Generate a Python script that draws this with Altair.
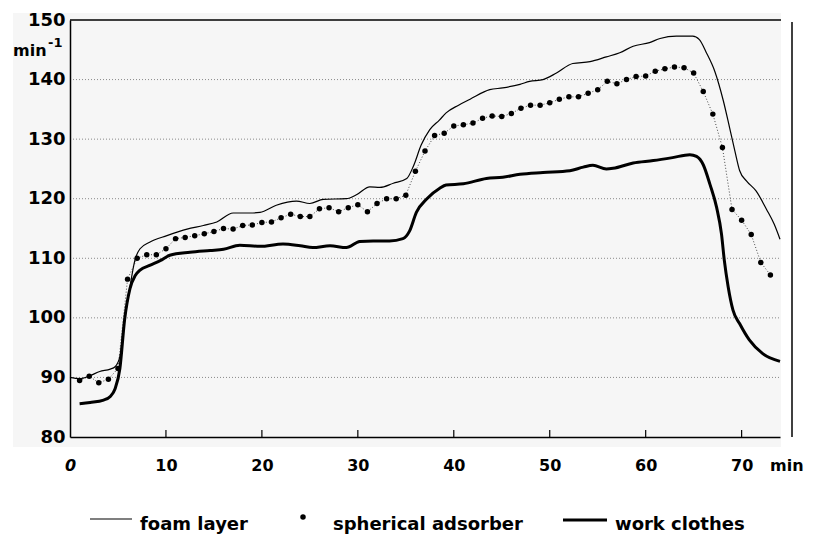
import altair as alt
import pandas as pd

# ---------------- data ----------------
foam_x = [0, 1.0, 2.1, 3.1, 4.2, 4.7, 5.2, 5.55, 6.1, 6.8, 7.3, 8.3, 10.1, 12.2, 13.9, 15.3,
          17.0, 18.75, 19.8, 21.5, 23.6, 25.0, 26.4, 28.8, 29.9, 31.25, 32.3, 33.7, 35.1,
          35.8, 36.6, 37.5, 38.5, 39.2, 40.5, 41.7, 43.75, 45.1, 46.9, 47.9, 49.3, 50.7,
          52.4, 54.2, 55.9, 57.3, 58.7, 60.4, 61.5, 63.2, 64.9, 65.6, 66.3, 67.2, 68.1,
          68.75, 69.3, 69.8, 70.5, 71.5, 72.6, 73.4, 74.0]
foam_y = [90.0, 89.8, 90.3, 91.0, 91.4, 91.8, 93.5, 98.2, 103.7, 109.9, 111.6, 112.7, 113.8,
          114.9, 115.5, 116.1, 117.6, 117.6, 117.7, 118.9, 119.6, 119.2, 119.9, 120.0, 120.7,
          122.0, 121.9, 122.6, 123.4, 125.5, 129.0, 131.6, 133.2, 134.4, 135.7, 136.7, 138.3,
          138.6, 139.2, 139.7, 140.0, 141.1, 142.7, 143.0, 143.8, 144.5, 145.6, 146.2, 146.9,
          147.3, 147.3, 146.7, 144.6, 141.4, 136.4, 131.9, 128.0, 124.7, 123.0, 121.3, 118.2,
          115.7, 113.2]

work_x = [1.0, 2.1, 3.5, 4.2, 4.7, 5.2, 5.7, 6.25, 6.8, 7.3, 8.3, 9.4, 10.4, 12.5, 14.6, 16.0,
          17.7, 19.8, 22.2, 24.0, 25.3, 27.1, 28.8, 30.2, 31.6, 33.3, 34.7, 35.4, 36.1, 37.2,
          38.5, 39.2, 41.0, 43.4, 45.1, 46.9, 49.3, 52.1, 53.5, 54.5, 55.9, 56.6, 58.7, 60.8,
          62.8, 64.6, 65.3, 66.0, 66.7, 67.4, 67.9, 68.2, 68.6, 69.1, 69.8, 70.8, 72.2, 74.0]
work_y = [85.6, 85.8, 86.2, 86.8, 88.1, 91.5, 99.8, 104.9, 107.1, 108.0, 108.8, 109.6, 110.5,
          111.0, 111.3, 111.5, 112.2, 112.0, 112.4, 112.1, 111.8, 112.1, 111.8, 112.8, 112.9,
          112.9, 113.3, 114.6, 117.7, 120.0, 121.7, 122.3, 122.5, 123.4, 123.6, 124.1, 124.4,
          124.7, 125.3, 125.6, 125.0, 125.1, 126.0, 126.4, 126.9, 127.4, 127.1, 125.7, 122.4,
          118.5, 114.1, 109.6, 105.2, 101.3, 99.0, 96.3, 94.0, 92.7]

sph_x = [1, 2, 3, 4, 5, 6, 7, 8, 9, 10, 11, 12, 13, 14, 15, 16, 17, 18, 19, 20, 21, 22, 23, 24,
         25, 26, 27, 28, 29, 30, 31, 32, 33, 34, 35, 36, 37, 38, 39, 40, 41, 42, 43, 44, 45, 46,
         47, 48, 49, 50, 51, 52, 53, 54, 55, 56, 57, 58, 59, 60, 61, 62, 63, 64, 65, 66, 67, 68,
         69, 70, 71, 72, 73]
sph_y = [89.5, 90.2, 89.1, 89.7, 91.5, 106.5, 110.0, 110.6, 110.6, 111.6, 113.3, 113.5, 113.8,
         114.1, 114.5, 115.0, 114.9, 115.5, 115.6, 116.0, 116.1, 116.8, 117.4, 117.0, 117.0,
         118.3, 118.5, 117.8, 118.5, 119.0, 117.8, 119.2, 120.0, 120.0, 120.6, 124.6, 128.0,
         130.6, 131.0, 132.2, 132.4, 132.7, 133.5, 133.9, 133.8, 134.3, 135.2, 135.7, 135.7,
         136.1, 136.7, 137.1, 137.1, 137.7, 138.3, 139.7, 139.3, 140.0, 140.5, 140.6, 141.4,
         141.8, 142.1, 142.0, 141.1, 138.0, 134.2, 128.6, 118.2, 116.4, 114.0, 109.3, 107.2]

x_ticks = [0, 10, 20, 30, 40, 50, 60, 70]
y_ticks = [80, 90, 100, 110, 120, 130, 140, 150]
grid_values = [90, 100, 110, 120, 130, 140]
legend_labels = ["foam layer", "spherical adsorber", "work clothes"]
x_unit = "min"
y_unit = "min"
y_unit_exp = "-1"

# ---------------- chart ----------------
W, H = 710, 417
FONT = "DejaVu Sans"
xs = alt.Scale(domain=[0, 74], nice=False, zero=False)
ys = alt.Scale(domain=[80, 150], nice=False, zero=False)

foam = pd.DataFrame({"x": foam_x, "y": foam_y})
work = pd.DataFrame({"x": work_x, "y": work_y})
sph = pd.DataFrame({"x": sph_x, "y": sph_y})
one = pd.DataFrame({"a": [0]})

x_axis = alt.Axis(values=x_ticks, title=None, grid=False, ticks=False, tickSize=0,
                  labelFont=FONT, labelFontWeight="bold", labelFontSize=16, labelColor="black",
                  labelFontStyle={"condition": {"test": "datum.value === 0", "value": "italic"},
                                  "value": "normal"},
                  labelPadding=20, labelFlush=False, labelOverlap=False,
                  domainColor="black", domainWidth=1.5, zindex=1)
y_axis = alt.Axis(values=y_ticks, title=None, grid=False, ticks=False, tickSize=0,
                  labelFont=FONT, labelFontWeight="bold", labelFontSize=18, labelColor="black",
                  labelPadding=5, labelFlush=False, labelOverlap=False,
                  domainColor="black", domainWidth=1.5, zindex=1)

bg = alt.Chart(one).mark_rect(color="#f6f6f6").encode(
    x=alt.value(-57), x2=alt.value(711), y=alt.value(-7), y2=alt.value(427))

grid = alt.Chart(pd.DataFrame({"g": grid_values})).mark_rule(
    color="#8a8a8a", strokeWidth=1, strokeDash=[1, 2]).encode(
    y=alt.Y("g:Q", scale=ys, axis=y_axis), x=alt.value(0), x2=alt.value(W))

xtick = alt.Chart(pd.DataFrame({"t": x_ticks[1:]})).mark_rule(
    color="black", strokeWidth=1.2).encode(
    x=alt.X("t:Q", scale=xs, axis=x_axis), y=alt.value(H - 7), y2=alt.value(H))

top = alt.Chart(one).mark_rule(color="black", strokeWidth=1.5).encode(
    x=alt.value(0), x2=alt.value(711), y=alt.value(0))
right = alt.Chart(one).mark_rule(color="black", strokeWidth=1.5).encode(
    x=alt.value(722), y=alt.value(2), y2=alt.value(H))

foam_line = alt.Chart(foam).mark_line(color="black", strokeWidth=1.2, interpolate="monotone").encode(
    x=alt.X("x:Q", scale=xs), y=alt.Y("y:Q", scale=ys))
work_line = alt.Chart(work).mark_line(color="black", strokeWidth=3, interpolate="monotone").encode(
    x=alt.X("x:Q", scale=xs), y=alt.Y("y:Q", scale=ys))
sph_line = alt.Chart(sph).mark_line(color="#333", strokeWidth=0.9, strokeDash=[1, 2]).encode(
    x=alt.X("x:Q", scale=xs), y=alt.Y("y:Q", scale=ys))
sph_pts = alt.Chart(sph).mark_point(filled=True, color="black", size=30, opacity=1).encode(
    x=alt.X("x:Q", scale=xs), y=alt.Y("y:Q", scale=ys))

txt = dict(font=FONT, fontWeight="bold", color="black", align="left", baseline="alphabetic")
y_unit_t = alt.Chart(one).mark_text(fontSize=16, **txt).encode(
    x=alt.value(-57), y=alt.value(36), text=alt.value(y_unit))
y_exp_t = alt.Chart(one).mark_text(fontSize=13, **txt).encode(
    x=alt.value(-22), y=alt.value(27), text=alt.value(y_unit_exp))
x_unit_t = alt.Chart(one).mark_text(fontSize=16, font=FONT, fontWeight="bold", color="black",
                                    align="left", baseline="middle").encode(
    x=alt.value(700), y=alt.value(446), text=alt.value(x_unit))

leg_thin = alt.Chart(one).mark_rule(color="black", strokeWidth=1.2).encode(
    x=alt.value(20), x2=alt.value(62), y=alt.value(499))
leg_dot = alt.Chart(one).mark_point(filled=True, color="black", size=30, opacity=1).encode(
    x=alt.value(233), y=alt.value(497))
leg_thick = alt.Chart(one).mark_rule(color="black", strokeWidth=3).encode(
    x=alt.value(493), x2=alt.value(537), y=alt.value(500))
leg_t1 = alt.Chart(one).mark_text(fontSize=18, **txt).encode(
    x=alt.value(70), y=alt.value(510), text=alt.value(legend_labels[0]))
leg_t2 = alt.Chart(one).mark_text(fontSize=18, **txt).encode(
    x=alt.value(263), y=alt.value(510), text=alt.value(legend_labels[1]))
leg_t3 = alt.Chart(one).mark_text(fontSize=18, **txt).encode(
    x=alt.value(545), y=alt.value(510), text=alt.value(legend_labels[2]))

chart = alt.layer(
    bg, grid, xtick, top, right, sph_line, foam_line, work_line, sph_pts,
    y_unit_t, y_exp_t, x_unit_t, leg_thin, leg_dot, leg_thick, leg_t1, leg_t2, leg_t3
).properties(
    width=W, height=H,
    padding={"left": 62, "top": 12, "right": 25, "bottom": 98},
    autosize=alt.AutoSizeParams(type="none"),
    background="white",
).configure_view(stroke=None)

chart.save("out.html", embed_options={"renderer": "svg", "actions": False})
